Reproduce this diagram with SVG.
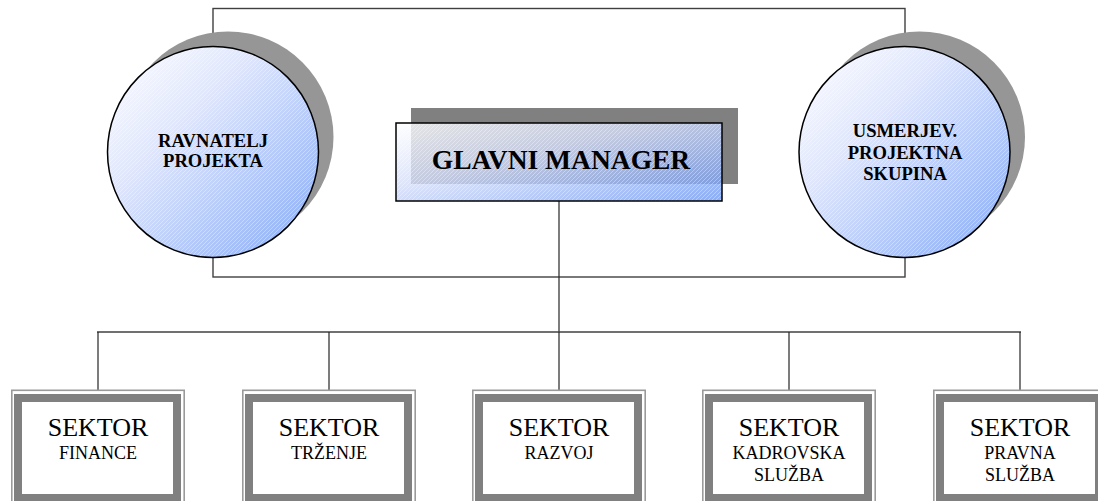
<svg xmlns="http://www.w3.org/2000/svg" width="1098" height="501" viewBox="0 0 1098 501">
  <defs>
    <linearGradient id="blueFill" x1="0" y1="0" x2="1" y2="1">
      <stop offset="0" stop-color="#ffffff"/>
      <stop offset="0.35" stop-color="#d9e1fb"/>
      <stop offset="1" stop-color="#6b98f5"/>
    </linearGradient>
    <linearGradient id="boxFill" x1="0" y1="0" x2="1" y2="1">
      <stop offset="0" stop-color="#ffffff"/>
      <stop offset="0.4" stop-color="#d6def8"/>
      <stop offset="1" stop-color="#6d98f4"/>
    </linearGradient>
    <pattern id="hatch" width="4" height="4" patternUnits="userSpaceOnUse">
      <path d="M-1,1 l2,-2 M0,4 l4,-4 M3,5 l2,-2" stroke="#ffffff" stroke-width="0.8" stroke-opacity="0.45"/>
    </pattern>
    <style>
      .frame { fill: none; stroke: #404040; stroke-width: 1.4; }
      .wire { fill: none; stroke: #262626; stroke-width: 1.2; }
      .bus { fill: none; stroke: #404040; stroke-width: 1.6; }
      .shadowC { fill: #969696; }
      .shadowR { fill: #808080; }
      .disc { fill: url(#blueFill); fill-opacity: 0.82; stroke: none; }
      .hatchFill { fill: url(#hatch); stroke: none; }
      .outline { fill: none; stroke: #000000; stroke-width: 1.5; }
      .circleTxt { font-family: "Liberation Serif", "Times New Roman", serif; font-weight: bold; font-size: 18.6px; fill: #000; text-anchor: middle; }
      .mgrTxt { font-family: "Liberation Serif", "Times New Roman", serif; font-weight: bold; font-size: 27.5px; fill: #000; text-anchor: middle; }
      .secOuter { fill: none; stroke: #9a9a9a; stroke-width: 1.6; }
      .secBand { fill: #ffffff; stroke: #808080; stroke-width: 8; }
      .secTitle { font-family: "Liberation Serif", "Times New Roman", serif; font-size: 26px; fill: #000; text-anchor: middle; }
      .secSub { font-family: "Liberation Serif", "Times New Roman", serif; font-size: 18px; fill: #000; text-anchor: middle; }
    </style>
  </defs>

  <!-- connectors -->
  <g id="connectors">
    <rect class="frame" x="213" y="8.5" width="692" height="268.5"/>
    <path class="wire" d="M559,201 V332"/>
    <path class="bus" d="M97,332 H1021"/>
    <path class="wire" d="M98,332 V390 M329,332 V390 M559,332 V390 M789,332 V390 M1020,332 V390"/>
  </g>

  <!-- project director -->
  <g id="ravnatelj">
    <circle class="shadowC" cx="228" cy="137" r="105.5"/>
    <circle fill="#ffffff" cx="213" cy="152" r="105.5"/>
    <circle class="disc" cx="213" cy="152" r="105.5"/>
    <circle class="hatchFill" cx="213" cy="152" r="105.5"/>
    <circle class="outline" cx="213" cy="152" r="105.5"/>
    <text class="circleTxt" x="213" y="147">RAVNATELJ</text>
    <text class="circleTxt" x="213" y="167">PROJEKTA</text>
  </g>

  <!-- steering group -->
  <g id="usmerjev">
    <circle class="shadowC" cx="919.5" cy="137" r="105.5"/>
    <circle fill="#ffffff" cx="904.5" cy="152" r="105.5"/>
    <circle class="disc" cx="904.5" cy="152" r="105.5"/>
    <circle class="hatchFill" cx="904.5" cy="152" r="105.5"/>
    <circle class="outline" cx="904.5" cy="152" r="105.5"/>
    <text class="circleTxt" x="905" y="137">USMERJEV.</text>
    <text class="circleTxt" x="905" y="158.5">PROJEKTNA</text>
    <text class="circleTxt" x="905" y="180">SKUPINA</text>
  </g>

  <!-- general manager -->
  <g id="glavni">
    <rect class="shadowR" x="411" y="108" width="327" height="76"/>
    <rect style="fill:url(#boxFill);fill-opacity:0.8" x="396" y="123" width="326" height="78"/>
    <rect class="hatchFill" x="396" y="123" width="326" height="78"/>
    <rect class="outline" x="396" y="123" width="326" height="78"/>
    <text class="mgrTxt" x="561" y="169">GLAVNI MANAGER</text>
  </g>

  <!-- sectors -->
  <g id="sektor-finance">
    <rect class="secOuter" x="11.8" y="390.3" width="172.4" height="120"/>
    <rect class="secBand" x="18" y="398" width="159" height="100"/>
    <text class="secTitle" x="98" y="436">SEKTOR</text>
    <text class="secSub" x="98" y="459">FINANCE</text>
  </g>
  <g id="sektor-trzenje">
    <rect class="secOuter" x="242.8" y="390.3" width="172.4" height="120"/>
    <rect class="secBand" x="249" y="398" width="159" height="100"/>
    <text class="secTitle" x="329" y="436">SEKTOR</text>
    <text class="secSub" x="329" y="459">TRŽENJE</text>
  </g>
  <g id="sektor-razvoj">
    <rect class="secOuter" x="472.8" y="390.3" width="172.4" height="120"/>
    <rect class="secBand" x="479" y="398" width="159" height="100"/>
    <text class="secTitle" x="559" y="436">SEKTOR</text>
    <text class="secSub" x="559" y="459">RAZVOJ</text>
  </g>
  <g id="sektor-kadrovska">
    <rect class="secOuter" x="702.8" y="390.3" width="172.4" height="120"/>
    <rect class="secBand" x="709" y="398" width="159" height="100"/>
    <text class="secTitle" x="789" y="436">SEKTOR</text>
    <text class="secSub" x="789" y="459">KADROVSKA</text>
    <text class="secSub" x="789" y="481">SLUŽBA</text>
  </g>
  <g id="sektor-pravna">
    <rect class="secOuter" x="933.8" y="390.3" width="172.4" height="120"/>
    <rect class="secBand" x="940" y="398" width="159" height="100"/>
    <text class="secTitle" x="1020" y="436">SEKTOR</text>
    <text class="secSub" x="1020" y="459">PRAVNA</text>
    <text class="secSub" x="1020" y="481">SLUŽBA</text>
  </g>
</svg>
